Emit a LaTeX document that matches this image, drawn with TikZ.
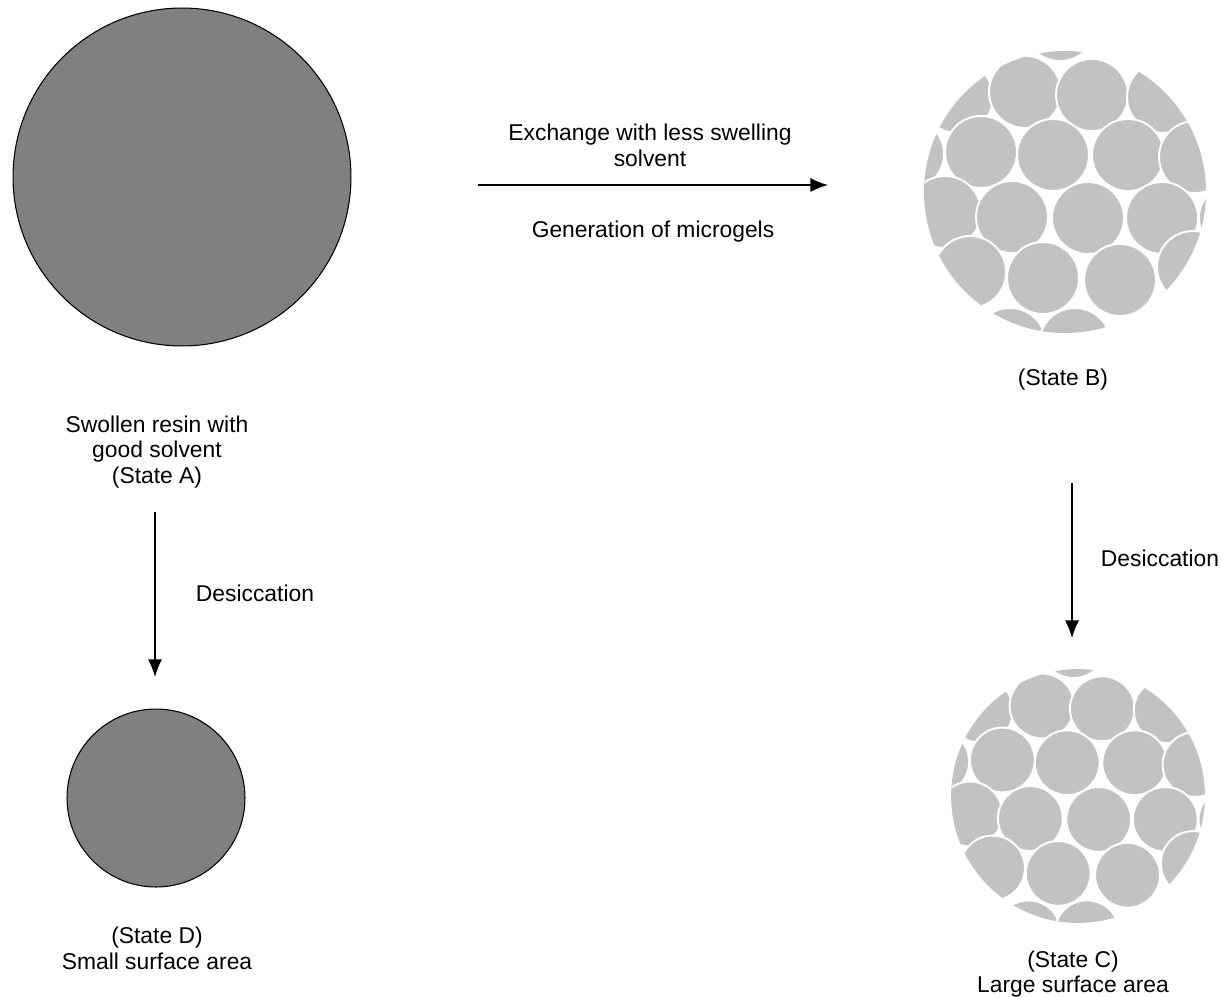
\documentclass[tikz,border=0pt]{standalone}
\usepackage{fontspec}
\setmainfont{Liberation Sans}
\usepackage{tikz}
\usetikzlibrary{arrows.meta, positioning}
\definecolor{resingray}{HTML}{808080}
\definecolor{gelgray}{HTML}{C2C2C2}
% centres des microgels (relatifs au centre du grain)
\newcommand{\gelcenters}{-5/-167, 68/-165,
  -108/-95, -40/-100, 27/-97, 98/-95,
  -157/-38, -84/-40, -12/-37, 63/-37, 130/-35,
  -120/20, -53/25, 23/26, 97/26, 170/26,
  -95/80, -22/86, 55/88, 128/75,
  -55/152, 10/152}

\begin{document}
\begin{tikzpicture}[x=0.02cm, y=-0.02cm,
  resin/.style={circle, draw, line width=0.6pt, fill=resingray, inner sep=0pt},
  label/.style={align=center, font=\fontsize{13}{14.7}\selectfont},
  arrow/.style={-{Latex[length=10pt, width=8pt]}, line width=0.8pt},
  gel/.style={fill=gelgray, draw=white, line width=1.1pt},
]
  \useasboundingbox (0,0) rectangle (1222,996);

  % Etat A -> Etat D
  \node[resin, minimum size=6.76cm] (stateA) at (182,177) {};
  \node[label] (textA) at (157,452) {Swollen resin with\\good solvent\\(State A)};
  \coordinate (aStart) at (155,512);
  \coordinate (aEnd) at (155,677);
  \draw[arrow] (aStart) -- (aEnd);
  \node[label] (desA) at (255,593) {Desiccation};
  \node[resin, minimum size=3.56cm] (stateD) at (156,798) {};
  \node[label] (textD) at (157,948) {(State D)\\Small surface area};

  % Echange de solvant
  \coordinate (xStart) at (478,185);
  \coordinate (xEnd) at (828,185);
  \draw[arrow] (xStart) -- (xEnd);
  \node[label] (exchange) at (650,145) {Exchange with less swelling\\solvent};
  \node[label] (generation) at (653,232) {Generation of microgels};

  % Etat B
  \begin{scope}[shift={(1065,192)}]
    \clip (0,0) circle [radius=141];
    \foreach \gx/\gy in \gelcenters
      \filldraw[gel] (\gx,\gy) circle [radius=36];
  \end{scope}
  \node[label] (textB) at (1063,380) {(State B)};

  % Etat B -> Etat C
  \coordinate (bStart) at (1072,483);
  \coordinate (bEnd) at (1072,638);
  \draw[arrow] (bStart) -- (bEnd);
  \node[label] (desB) at (1160,558) {Desiccation};

  % Etat C
  \begin{scope}[shift={(1078,796)}, scale=0.9]
    \clip (0,0) circle [radius=141];
    \foreach \gx/\gy in \gelcenters
      \filldraw[gel] (\gx,\gy) circle [radius=36];
  \end{scope}
  \node[label] (textC) at (1073,974) {(State C)\\Large surface area};
\end{tikzpicture}
\end{document}
